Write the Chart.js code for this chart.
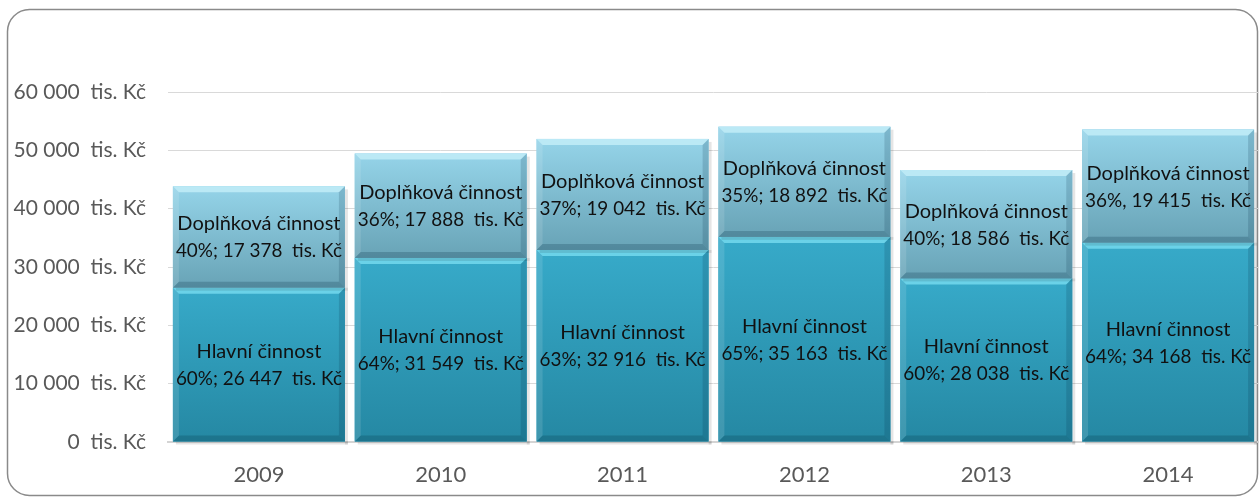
<!DOCTYPE html>
<html>
<head>
<meta charset="utf-8">
<script src="https://cdn.jsdelivr.net/npm/chart.js@4"></script>
<style>
  html, body { margin: 0; padding: 0; background: #fff; }
  #wrap { width: 1259px; height: 497px; }
</style>
</head>
<body>
<div id="wrap"><canvas id="chart"></canvas></div>
<script>
const years = ['2009', '2010', '2011', '2012', '2013', '2014'];
const hlavni = [26447, 31549, 32916, 35163, 28038, 34168];
const doplnkova = [17378, 17888, 19042, 18892, 18586, 19415];
const hlavniPct = [60, 64, 63, 65, 60, 64];
const doplnkovaPct = [40, 36, 37, 35, 40, 36];
const doplnkovaSep = [';', ';', ';', ';', ';', ','];
const seriesNames = ['Hlavní činnost', 'Doplňková činnost'];
const unit = '  tis. Kč';

const FONT = 'Lato';

function fmt(n) {
    return String(n).replace(/\B(?=(\d{3})+(?!\d))/g, ' ');
}

// colours per dataset: gradient top -> bottom, bevel light / dark
const looks = [
    { top: '#37aac9', bottom: '#2588a3', hi: 'rgba(120,220,240,0.8)', lo: 'rgba(15,80,100,0.35)' },
    { top: '#95d4e9', bottom: '#68a3b6', hi: 'rgba(200,240,250,0.75)', lo: 'rgba(40,90,110,0.35)' },
];

const frame = {
    id: 'frame',
    beforeDraw(chart) {
        const ctx = chart.ctx;
        ctx.save();
        ctx.strokeStyle = '#8a8a8a';
        ctx.lineWidth = 1.5;
        ctx.beginPath();
        ctx.roundRect(7.5, 9.5, 1250, 486, 22);
        ctx.stroke();
        ctx.restore();
    }
};

const bevelBars = {
    id: 'bevelBars',
    afterDatasetsDraw(chart) {
        const ctx = chart.ctx;
        ctx.save();
        chart.data.datasets.forEach((ds, di) => {
            const look = looks[di];
            chart.getDatasetMeta(di).data.forEach((bar) => {
                const l = bar.x - bar.width / 2, r = bar.x + bar.width / 2;
                const t = Math.min(bar.y, bar.base), b = Math.max(bar.y, bar.base);
                const w = r - l, h = b - t;
                // shadow
                ctx.fillStyle = 'rgba(0,0,0,0.10)';
                ctx.fillRect(r, t + 3, 3, h);
                ctx.fillRect(l + 3, b, w, 3);
                // body gradient
                const g = ctx.createLinearGradient(0, t, 0, b);
                g.addColorStop(0, look.top);
                g.addColorStop(1, look.bottom);
                ctx.fillStyle = g;
                ctx.fillRect(l, t, w, h);
                const e = 6;
                // top bevel
                ctx.fillStyle = look.hi;
                ctx.beginPath();
                ctx.moveTo(l, t); ctx.lineTo(r, t); ctx.lineTo(r - e, t + e); ctx.lineTo(l + e, t + e);
                ctx.closePath(); ctx.fill();
                // left bevel
                ctx.fillStyle = 'rgba(255,255,255,0.12)';
                ctx.beginPath();
                ctx.moveTo(l, t); ctx.lineTo(l + e, t + e); ctx.lineTo(l + e, b - e); ctx.lineTo(l, b);
                ctx.closePath(); ctx.fill();
                // right bevel
                ctx.fillStyle = 'rgba(0,40,60,0.16)';
                ctx.beginPath();
                ctx.moveTo(r, t); ctx.lineTo(r - e, t + e); ctx.lineTo(r - e, b - e); ctx.lineTo(r, b);
                ctx.closePath(); ctx.fill();
                // bottom bevel
                ctx.fillStyle = look.lo;
                ctx.beginPath();
                ctx.moveTo(l, b); ctx.lineTo(r, b); ctx.lineTo(r - e, b - e); ctx.lineTo(l + e, b - e);
                ctx.closePath(); ctx.fill();
            });
        });
        // labels
        ctx.fillStyle = '#111';
        ctx.font = '20px ' + FONT;
        ctx.textAlign = 'center';
        ctx.textBaseline = 'middle';
        chart.data.datasets.forEach((ds, di) => {
            chart.getDatasetMeta(di).data.forEach((bar, i) => {
                const mid = (bar.y + bar.base) / 2;
                const line2 = di === 0
                    ? hlavniPct[i] + '%; ' + fmt(hlavni[i]) + unit
                    : doplnkovaPct[i] + '%' + doplnkovaSep[i] + ' ' + fmt(doplnkova[i]) + unit;
                const maxW = bar.width - 6;
                ctx.fillText(seriesNames[di], bar.x, mid - 13, maxW);
                ctx.fillText(line2, bar.x, mid + 14, maxW);
            });
        });
        ctx.restore();
    }
};

new Chart(document.getElementById('chart'), {
    type: 'bar',
    data: {
        labels: years,
        datasets: [
            { label: seriesNames[0], data: hlavni, backgroundColor: looks[0].top },
            { label: seriesNames[1], data: doplnkova, backgroundColor: looks[1].top },
        ],
    },
    options: {
        responsive: true,
        maintainAspectRatio: false,
        animation: false,
        events: [],
        layout: { padding: { top: 92, right: 0, bottom: 0, left: 0 } },
        datasets: { bar: { categoryPercentage: 1, barPercentage: 0.946 } },
        plugins: { legend: { display: false }, tooltip: { enabled: false } },
        scales: {
            x: {
                stacked: true,
                grid: { display: false, drawTicks: false },
                border: { color: '#d4d4d4', width: 2 },
                ticks: { color: '#595959', font: { family: FONT, size: 22 }, padding: 20 },
                afterFit(scale) { scale.height = 55; },
            },
            y: {
                stacked: true,
                min: 0,
                max: 60000,
                grid: { color: '#d9d9d9', drawTicks: false },
                border: { display: false },
                ticks: {
                    stepSize: 10000,
                    color: '#595959',
                    font: { family: FONT, size: 21 },
                    padding: 22,
                    callback: (v) => fmt(v) + unit,
                },
                afterFit(scale) { scale.width = 168; },
            },
        },
    },
    plugins: [frame, bevelBars],
});
</script>
</body>
</html>
